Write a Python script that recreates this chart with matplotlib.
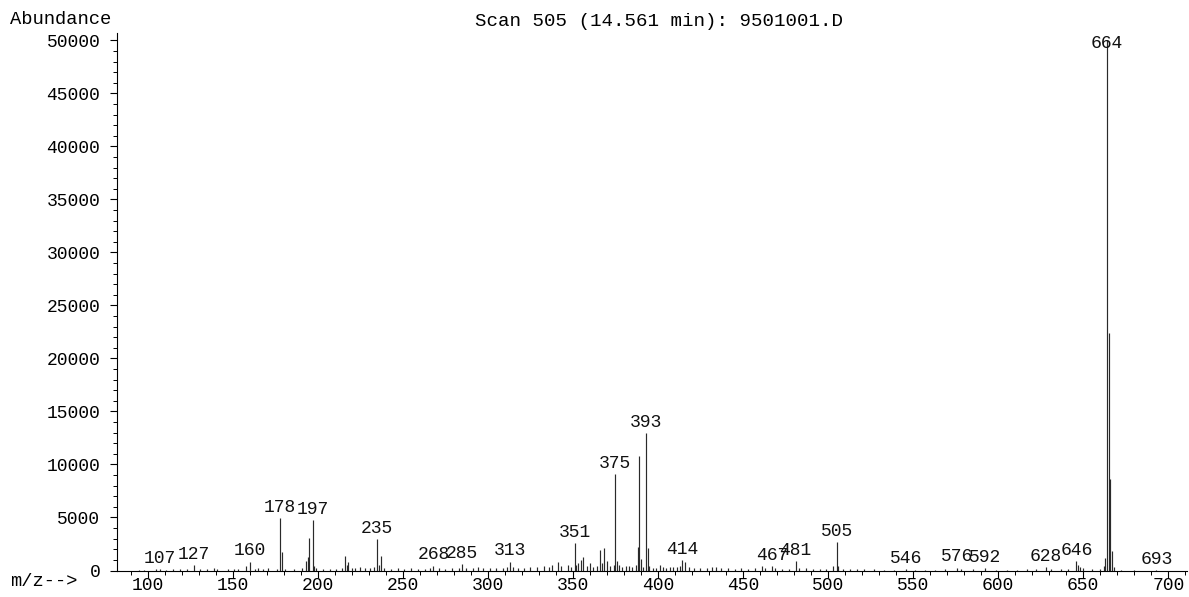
import matplotlib
matplotlib.use('Agg')
import matplotlib.pyplot as plt
from matplotlib.ticker import MultipleLocator
import numpy as np

# Mass spectrum, scan 505 -- peaks
mz = [95, 98, 105, 107, 111, 115, 119, 123, 127, 131, 135, 139, 141, 147, 151, 153,
      158, 160, 163, 165, 168, 171, 176, 178, 179, 181, 186, 191, 193, 194, 195, 197,
      198, 199, 203, 207, 211, 214, 216, 217, 218, 220, 222, 225, 228, 231, 233, 235,
      236, 237, 239, 243, 247, 251, 255, 259, 263, 266, 268, 271, 275, 279, 283, 285,
      287, 291, 294, 297, 301, 305, 309, 311, 313, 315, 318, 321, 325, 329, 333, 336,
      338, 341, 343, 347, 349, 351, 352, 353, 355, 356, 358, 360, 362, 364, 366, 367,
      368, 370, 372, 374, 375, 376, 377, 379, 381, 383, 385, 387, 388, 389, 390, 391,
      393, 394, 395, 397, 399, 401, 403, 405, 407, 409, 411, 413, 414, 416, 418, 421,
      425, 429, 432, 434, 437, 441, 445, 449, 453, 457, 461, 463, 467, 469, 473, 477,
      481, 483, 487, 491, 495, 499, 503, 505, 506, 509, 513, 517, 521, 527, 533, 539,
      546, 551, 557, 563, 569, 576, 578, 585, 592, 599, 605, 611, 617, 622, 628, 631,
      637, 641, 646, 647, 648, 650, 655, 660, 662, 663, 664, 665, 666, 667, 668, 672,
      680, 693]
abundance = [80, 60, 120, 150, 90, 130, 100, 150, 520, 150, 120, 200, 150, 120, 100, 180,
             450, 830, 120, 200, 150, 200, 150, 4920, 1770, 150, 130, 200, 900, 1300, 3040, 4760,
             450, 200, 150, 150, 180, 200, 1370, 550, 800, 200, 250, 300, 250, 200, 300, 2970,
             500, 1370, 250, 180, 200, 150, 200, 180, 150, 200, 450, 200, 150, 200, 250, 580,
             200, 200, 300, 250, 200, 200, 250, 300, 830, 300, 250, 200, 300, 350, 450, 300,
             550, 800, 400, 500, 300, 2570, 500, 700, 1000, 1300, 400, 700, 300, 400, 1930, 700,
             2150, 850, 400, 500, 9100, 850, 500, 300, 400, 450, 300, 500, 2250, 10800, 1060, 300,
             12940, 2150, 450, 200, 250, 500, 300, 250, 300, 350, 300, 450, 1000, 800, 300, 250,
             200, 250, 350, 300, 200, 200, 150, 200, 150, 200, 450, 200, 400, 200, 150, 150,
             850, 200, 250, 150, 150, 150, 450, 2700, 450, 150, 120, 120, 100, 100, 90, 80,
             100, 80, 80, 80, 100, 280, 150, 100, 200, 80, 80, 80, 100, 100, 300, 150,
             100, 150, 900, 500, 350, 200, 100, 150, 400, 1200, 50000, 22400, 8600, 1850, 300, 80,
             60, 50]

labelled = [107, 127, 160, 178, 197, 235, 268, 285, 313, 351, 375, 393, 414,
            467, 481, 505, 546, 576, 592, 628, 646, 664, 693]

title = 'Scan 505 (14.561 min): 9501001.D'

plt.rcParams['font.family'] = ['Liberation Mono', 'DejaVu Sans Mono']

fig = plt.figure(figsize=(11.89, 5.97), dpi=100)
ax = fig.add_axes([117 / 1189, 26.5 / 597, 1070 / 1189, 537.5 / 597])

ax.vlines(mz, 0, abundance, color='#2a2a2a', lw=0.85)

ax.set_xlim(82, 711)
ax.set_ylim(0, 50700)

peaks = dict(zip(mz, abundance))
for m in labelled:
    h = min(peaks[m], 48700)
    ax.annotate(str(m), (m, h), xytext=(0, 4.5), textcoords='offset points',
                ha='center', va='baseline', fontsize=13, color='#111111')

ax.spines['top'].set_visible(False)
ax.spines['right'].set_visible(False)
ax.spines['left'].set_linewidth(0.8)
ax.spines['bottom'].set_linewidth(0.8)

ax.xaxis.set_major_locator(MultipleLocator(50))
ax.xaxis.set_minor_locator(MultipleLocator(10))
ax.yaxis.set_major_locator(MultipleLocator(5000))
ax.yaxis.set_minor_locator(MultipleLocator(1000))
ax.set_xticks(np.arange(100, 701, 50))
ax.tick_params(axis='both', which='major', labelsize=13, length=5, width=0.8)
ax.tick_params(axis='both', which='minor', length=3, width=0.7)
ax.tick_params(axis='x', which='major', pad=0)
ax.tick_params(axis='y', which='major', pad=7)

fig.text(10 / 1189, 1 - 20 / 597, 'Abundance', ha='left', va='center', fontsize=13.5)
fig.text(10 / 1189, 1 - 582 / 597, 'm/z-->', ha='left', va='center', fontsize=13.5)
fig.text(659 / 1189, 1 - 21 / 597, title, ha='center', va='center', fontsize=13.8)

fig.savefig('out.png', dpi=100)
